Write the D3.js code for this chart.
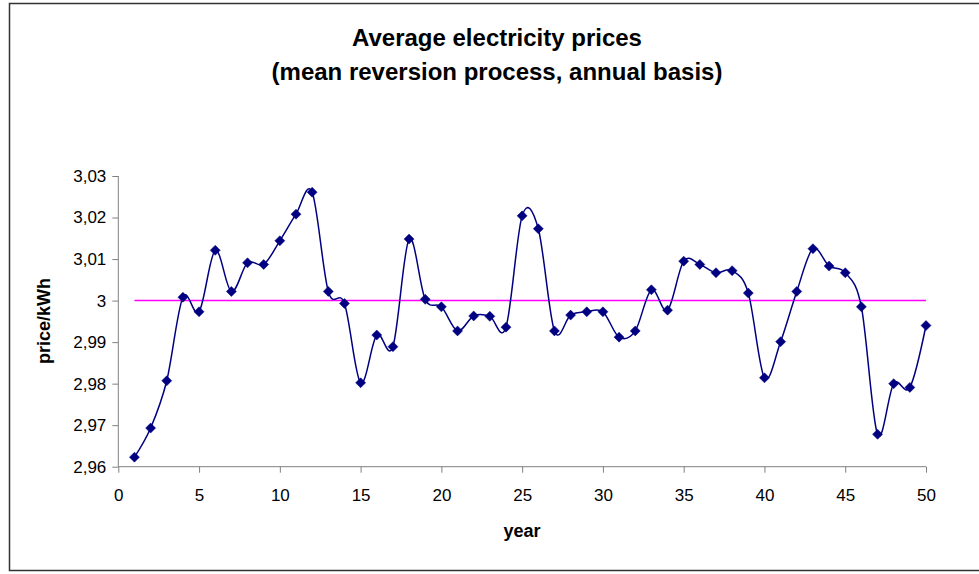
<!DOCTYPE html>
<html>
<head>
<meta charset="utf-8">
<script src="https://cdn.jsdelivr.net/npm/d3@7"></script>
<style>
  html, body { margin: 0; padding: 0; background: #fff; }
  svg { display: block; }
  text { font-family: Arial, "Liberation Sans", sans-serif; }
</style>
</head>
<body>
<svg id="chart" width="979" height="574"></svg>
<script>
const titleLines = ["Average electricity prices", "(mean reversion process, annual basis)"];
const xTitle = "year";
const yTitle = "price/kWh";
const years = [1,2,3,4,5,6,7,8,9,10,11,12,13,14,15,16,17,18,19,20,21,22,23,24,25,
               26,27,28,29,30,31,32,33,34,35,36,37,38,39,40,41,42,43,44,45,46,47,48,49,50];
const prices = [2.9623,2.9693,2.9807,3.0008,2.9973,3.0121,3.0022,3.0091,3.0087,3.0144,
                3.0208,3.0261,3.0022,2.9993,2.9802,2.9917,2.9889,3.0148,3.0003,2.9985,
                2.9927,2.9963,2.9962,2.9936,3.0204,3.0173,2.9927,2.9965,2.9973,2.9973,
                2.9912,2.9927,3.0026,2.9977,3.0095,3.0087,3.0067,3.0072,3.0018,2.9814,
                2.9901,3.0022,3.0125,3.0083,3.0067,2.9985,2.9678,2.9800,2.9791,2.9940];
const meanLevel = 3;
const xTicks = [0,5,10,15,20,25,30,35,40,45,50];
const yTicks = [2.96,2.97,2.98,2.99,3.00,3.01,3.02,3.03];
const yTickLabels = ["2,96","2,97","2,98","2,99","3","3,01","3,02","3,03"];

const svg = d3.select("#chart");

// outer chart border
svg.append("rect")
  .attr("x", 9.5).attr("y", 3.5).attr("width", 980).attr("height", 567)
  .attr("fill", "#fff").attr("stroke", "#333").attr("stroke-width", 1.5);

const x = d3.scaleLinear().domain([0, 50]).range([118.3, 926]);
const y = d3.scaleLinear().domain([2.96, 3.03]).range([466.7, 176]);

// title
svg.append("text").attr("x", 497).attr("y", 46)
  .attr("text-anchor", "middle").attr("font-size", 24).attr("font-weight", "bold")
  .text(titleLines[0]);
svg.append("text").attr("x", 497).attr("y", 80)
  .attr("text-anchor", "middle").attr("font-size", 24).attr("font-weight", "bold")
  .text(titleLines[1]);

// y axis
const yAxis = d3.axisLeft(y).tickValues(yTicks).tickSize(6).tickPadding(6)
  .tickFormat((d, i) => yTickLabels[i]);
const gy = svg.append("g").attr("transform", `translate(${x(0)},0)`).call(yAxis);
gy.select(".domain").attr("stroke", "#808080").attr("d", `M0,${y(3.03)}V${y(2.96)}`);
gy.selectAll(".tick line").attr("stroke", "#808080");
gy.selectAll(".tick text").attr("font-size", 17).attr("fill", "#000")
  .attr("font-family", "Arial, 'Liberation Sans', sans-serif");

// x axis
const xAxis = d3.axisBottom(x).tickValues(xTicks).tickSize(6).tickPadding(16);
const gx = svg.append("g").attr("transform", `translate(0,${y(2.96)})`).call(xAxis);
gx.select(".domain").attr("stroke", "#808080").attr("d", `M${x(0)},0H${x(50)}`);
gx.selectAll(".tick line").attr("stroke", "#808080");
gx.selectAll(".tick text").attr("font-size", 17).attr("fill", "#000")
  .attr("font-family", "Arial, 'Liberation Sans', sans-serif");

// axis titles
svg.append("text").attr("x", 522).attr("y", 537)
  .attr("text-anchor", "middle").attr("font-size", 18).attr("font-weight", "bold")
  .text(xTitle);
svg.append("text").attr("transform", "translate(50,321) rotate(-90)")
  .attr("text-anchor", "middle").attr("font-size", 18).attr("font-weight", "bold")
  .text(yTitle);

// mean line
svg.append("line")
  .attr("x1", x(years[0])).attr("x2", x(years[years.length - 1]))
  .attr("y1", y(meanLevel)).attr("y2", y(meanLevel))
  .attr("stroke", "#FF00FF").attr("stroke-width", 1.5);

// smoothed series
const data = years.map((yr, i) => ({ yr, v: prices[i] }));
const line = d3.line().x(d => x(d.yr)).y(d => y(d.v)).curve(d3.curveCardinal.tension(0));
svg.append("path").datum(data).attr("d", line)
  .attr("fill", "none").attr("stroke", "#000080").attr("stroke-width", 1.5);

// diamond markers
svg.append("g").selectAll("path").data(data).join("path")
  .attr("transform", d => `translate(${x(d.yr)},${y(d.v)})`)
  .attr("d", "M0,-5L5,0L0,5L-5,0Z")
  .attr("fill", "#000080").attr("stroke", "#000080").attr("stroke-width", 0.5);
</script>
</body>
</html>
